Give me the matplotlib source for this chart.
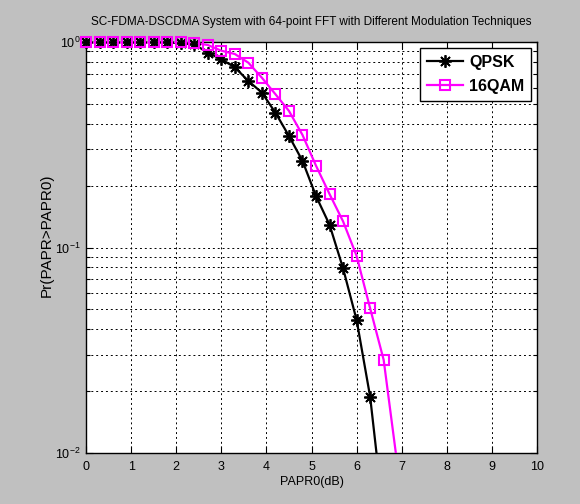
import numpy as np
import matplotlib
matplotlib.use("Agg")
import matplotlib.pyplot as plt
from matplotlib.ticker import LogLocator, NullFormatter, FixedLocator

plt.rcParams['font.family'] = ['Liberation Sans', 'DejaVu Sans']
plt.rcParams['mathtext.fontset'] = 'custom'
plt.rcParams['mathtext.rm'] = 'Liberation Sans'
plt.rcParams['mathtext.it'] = 'Liberation Sans'
plt.rcParams['mathtext.default'] = 'regular'

title = "SC-FDMA-DSCDMA System with 64-point FFT with Different Modulation Techniques"
xlabel = "PAPR0(dB)"
ylabel = "Pr(PAPR>PAPR0)"

qpsk_x = [0, 0.3, 0.6, 0.9, 1.2, 1.5, 1.8, 2.1, 2.4, 2.7, 3.0, 3.3, 3.6, 3.9, 4.2,
          4.5, 4.8, 5.1, 5.4, 5.7, 6.0, 6.3, 6.6]
qpsk_y = [1.0, 1.0, 1.0, 1.0, 1.0, 1.0, 1.0, 0.985, 0.975, 0.887, 0.824, 0.753, 0.646,
          0.567, 0.453, 0.349, 0.264, 0.178, 0.129, 0.0792, 0.0444, 0.0188, 0.0049]

qam_x = [0, 0.3, 0.6, 0.9, 1.2, 1.5, 1.8, 2.1, 2.4, 2.7, 3.0, 3.3, 3.6, 3.9, 4.2,
         4.5, 4.8, 5.1, 5.4, 5.7, 6.0, 6.3, 6.6, 6.9]
qam_y = [1.0, 1.0, 1.0, 1.0, 1.0, 1.0, 1.0, 1.0, 0.99, 0.967, 0.907, 0.874, 0.793,
         0.67, 0.557, 0.462, 0.353, 0.25, 0.182, 0.134, 0.091, 0.0506, 0.0284, 0.0089]

xticks = [0, 1, 2, 3, 4, 5, 6, 7, 8, 9, 10]
ymin, ymax = 0.01, 1

fig = plt.figure(figsize=(5.8, 5.04), dpi=100)
fig.patch.set_facecolor('#c0c0c0')
ax = fig.add_axes([86/580, 1 - 453/504, (537-86)/580, (453-42)/504])
ax.set_facecolor('white')

series = [
    (qpsk_x, qpsk_y, 'QPSK', 'black',
     dict(marker=(8, 2, 0), markersize=9, markeredgewidth=1.3)),
    (qam_x, qam_y, '16QAM', '#ff00ff',
     dict(marker='s', markersize=7, markerfacecolor='none', markeredgewidth=1.5)),
]
for xs, ys, lab, col, mk in series:
    xs = np.asarray(xs); ys = np.asarray(ys)
    ax.semilogy(xs, ys, color=col, lw=1.6, zorder=3)
    inside = ys >= ymin
    ax.semilogy(xs[inside], ys[inside], linestyle='none', color=col,
                markeredgecolor=col, clip_on=False, zorder=4, **mk)
    ax.plot([], [], color=col, lw=1.6, markeredgecolor=col, label=lab, **mk)

ax.set_xlim(0, 10)
ax.set_ylim(ymin, ymax)
ax.xaxis.set_major_locator(FixedLocator(xticks))
ax.set_xticklabels([str(t) for t in xticks])
ax.yaxis.set_minor_locator(LogLocator(base=10, subs=np.arange(2, 10)))
ax.yaxis.set_minor_formatter(NullFormatter())
ax.set_yticks([0.01, 0.1, 1])
ax.set_yticklabels([r'$10^{-2}$', r'$10^{-1}$', r'$10^{0}$'])

ax.tick_params(axis='both', which='both', direction='in', top=True, right=True,
               labelsize=9, colors='black')
ax.tick_params(axis='x', which='both', pad=6)
ax.tick_params(axis='y', which='both', pad=4)
ax.tick_params(axis='both', which='major', length=5, width=0.8)
ax.tick_params(axis='y', which='minor', length=3, width=0.8)

ax.grid(True, which='major', axis='both', color='black', linestyle=(0, (2, 3)), lw=0.7)
ax.grid(True, which='minor', axis='y', color='black', linestyle=(0, (2, 3)), lw=0.7)
for s in ax.spines.values():
    s.set_linewidth(1.0)
    s.set_color('black')

ax.set_title(title, fontsize=8.5, pad=12)
ax.set_xlabel(xlabel, fontsize=9, labelpad=2)
ax.set_ylabel(ylabel, fontsize=11)
ax.yaxis.set_label_coords(-0.072, 0.53)

leg = ax.legend(loc='upper right', prop={'weight': 'bold', 'size': 11.5},
                fancybox=False, edgecolor='black', framealpha=1,
                borderaxespad=0.35, handlelength=2.2, borderpad=0.45,
                labelspacing=0.55, handletextpad=0.4)
leg.get_frame().set_linewidth(1.0)
leg.set_zorder(5)

fig.savefig('out.png', dpi=100, facecolor=fig.get_facecolor())
